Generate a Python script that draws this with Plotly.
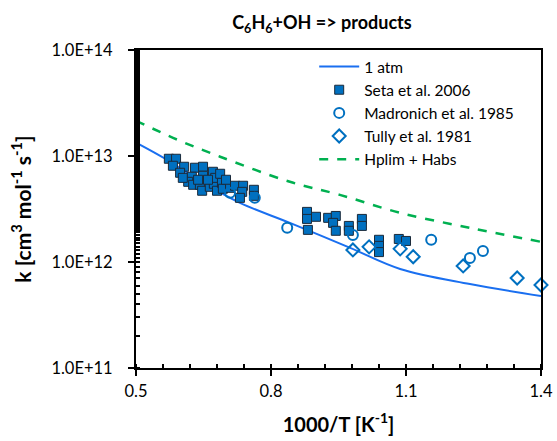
import plotly.graph_objects as go

# ---- data ----
atm_x = [0.500, 0.569, 0.642, 0.731, 0.842, 0.976, 1.087, 1.242, 1.400]
atm_k = [1.34e13, 9.22e12, 5.84e12, 3.61e12, 2.34e12, 1.36e12, 8.60e11, 6.20e11, 4.77e11]

seta_x = [0.573, 0.589, 0.582, 0.607, 0.598, 0.631, 0.649, 0.624, 0.649, 0.616,
          0.627, 0.642, 0.647, 0.664, 0.673, 0.680, 0.671, 0.604, 0.676, 0.691,
          0.693, 0.709, 0.720, 0.738, 0.736, 0.731, 0.762, 0.762, 0.660, 0.687,
          0.700, 0.638,
          0.880, 0.880, 0.900, 0.882, 0.927, 0.944, 0.938, 0.944, 0.973, 0.973,
          1.002, 1.002, 1.040, 1.040, 1.040, 1.084, 1.100]
seta_k = [9.42e12, 9.42e12, 8.09e12, 7.92e12, 6.95e12, 7.75e12, 7.92e12, 6.37e12, 6.51e12, 5.71e12,
          5.35e12, 5.35e12, 4.70e12, 5.12e12, 5.47e12, 4.70e12, 7.10e12, 6.22e12, 6.22e12, 5.58e12,
          4.91e12, 5.01e12, 5.24e12, 5.24e12, 4.59e12, 4.03e12, 4.80e12, 4.21e12, 5.97e12, 6.80e12,
          5.97e12, 5.97e12,
          2.97e12, 2.55e12, 2.67e12, 2.01e12, 2.61e12, 2.72e12, 2.34e12, 1.97e12, 2.19e12, 1.97e12,
          2.55e12, 2.19e12, 1.62e12, 1.42e12, 1.24e12, 1.65e12, 1.58e12]

madr_x = [0.709, 0.764, 0.836, 0.982, 1.156, 1.242, 1.271]
madr_k = [4.50e12, 4.03e12, 2.10e12, 1.80e12, 1.62e12, 1.09e12, 1.27e12]

tully_x = [0.982, 1.018, 1.087, 1.116, 1.227, 1.347, 1.400]
tully_k = [1.30e12, 1.39e12, 1.33e12, 1.12e12, 9.18e11, 7.06e11, 6.07e11]

hp_x = [0.500, 0.591, 0.687, 0.842, 0.953, 1.087, 1.242, 1.400]
hp_k = [2.15e13, 1.43e13, 9.84e12, 5.71e12, 4.30e12, 2.91e12, 2.10e12, 1.55e12]

x_ticks = [0.5, 0.8, 1.1, 1.4]
x_ticktext = ["0.5", "0.8", "1.1", "1.4"]
y_ticks = [1e11, 1e12, 1e13, 1e14]
y_ticktext = ["1.0E+11", "1.0E+12", "1.0E+13", "1.0E+14"]

FONT = "Lato"
BLUE_LINE = "#1a6ff0"
MARK = "#0070C0"
GREEN = "#00B050"

fig = go.Figure()
fig.add_trace(go.Scatter(x=atm_x, y=atm_k, mode="lines", name="1 atm",
                         line=dict(color=BLUE_LINE, width=2, shape="spline")))
fig.add_trace(go.Scatter(x=seta_x, y=seta_k, mode="markers", name="Seta et al. 2006",
                         marker=dict(symbol="square", size=9, color=MARK,
                                     line=dict(color="#1b2a3a", width=1))))
fig.add_trace(go.Scatter(x=madr_x, y=madr_k, mode="markers", name="Madronich et al. 1985",
                         marker=dict(symbol="circle-open", size=10, color=MARK,
                                     line=dict(color=MARK, width=2))))
fig.add_trace(go.Scatter(x=tully_x, y=tully_k, mode="markers", name="Tully et al. 1981",
                         cliponaxis=False,
                         marker=dict(symbol="diamond-open", size=10, color=MARK,
                                     line=dict(color=MARK, width=2))))
fig.add_trace(go.Scatter(x=hp_x, y=hp_k, mode="lines", name="Hplim + Habs",
                         line=dict(color=GREEN, width=2.5, dash="dash", shape="spline")))
# empty helper trace so the top/right frame axes are drawn
fig.add_trace(go.Scatter(x=[None], y=[None], xaxis="x2", yaxis="y2",
                         showlegend=False, hoverinfo="skip"))

fig.update_layout(
    width=557, height=441,
    margin=dict(l=136, r=16, t=50, b=73, autoexpand=False),
    paper_bgcolor="white", plot_bgcolor="white",
    font=dict(family=FONT, size=16.5, color="black"),
    title=dict(text="<b>C<sub>6</sub>H<sub>6</sub>+OH => products</b>",
               x=0.578, xref="container", xanchor="center",
               y=1 - 23 / 441, yref="container", yanchor="middle",
               font=dict(family=FONT, size=18, color="black")),
    xaxis=dict(range=[0.5, 1.4], tickvals=x_ticks, ticktext=x_ticktext,
               showgrid=False, zeroline=False,
               showline=True, linecolor="black", linewidth=2, mirror=True,
               ticks="outside", ticklen=6, tickwidth=2, tickcolor="black",
               ticklabelstandoff=1,
               minor=dict(dtick=0.06, tick0=0.5, ticks="inside", ticklen=4,
                          tickwidth=1.5, tickcolor="black", showgrid=False),
               title=dict(text="<b>1000/T [K<sup>-1</sup>]</b>", standoff=18,
                          font=dict(family=FONT, size=20))),
    yaxis=dict(type="log", range=[11, 14], tickvals=y_ticks, ticktext=y_ticktext,
               showgrid=False, zeroline=False,
               showline=True, linecolor="black", linewidth=2, mirror=True,
               ticks="outside", ticklen=6, tickwidth=2, tickcolor="black",
               ticklabelstandoff=12,
               minor=dict(ticks="inside", ticklen=4,
                          tickwidth=1.5, tickcolor="black", showgrid=False),
               title=dict(text="<b>k [cm<sup>3</sup> mol<sup>-1</sup> s<sup>-1</sup>]</b>",
                          standoff=14, font=dict(family=FONT, size=21))),
    xaxis2=dict(overlaying="x", side="top", anchor="y2", range=[0.5, 1.4],
                showticklabels=False, ticks="", showgrid=False, zeroline=False,
                showline=True, linecolor="black", linewidth=2),
    yaxis2=dict(overlaying="y", side="right", anchor="x2", type="log", range=[11, 14],
                showticklabels=False, ticks="", showgrid=False, zeroline=False,
                showline=True, linecolor="black", linewidth=2),
    legend=dict(x=0.44, y=1.0, xanchor="left", yanchor="top",
                bgcolor="rgba(0,0,0,0)", font=dict(family=FONT, size=15.5),
                itemwidth=40, tracegroupgap=0),
    showlegend=True,
)

fig.write_html("out.html")
